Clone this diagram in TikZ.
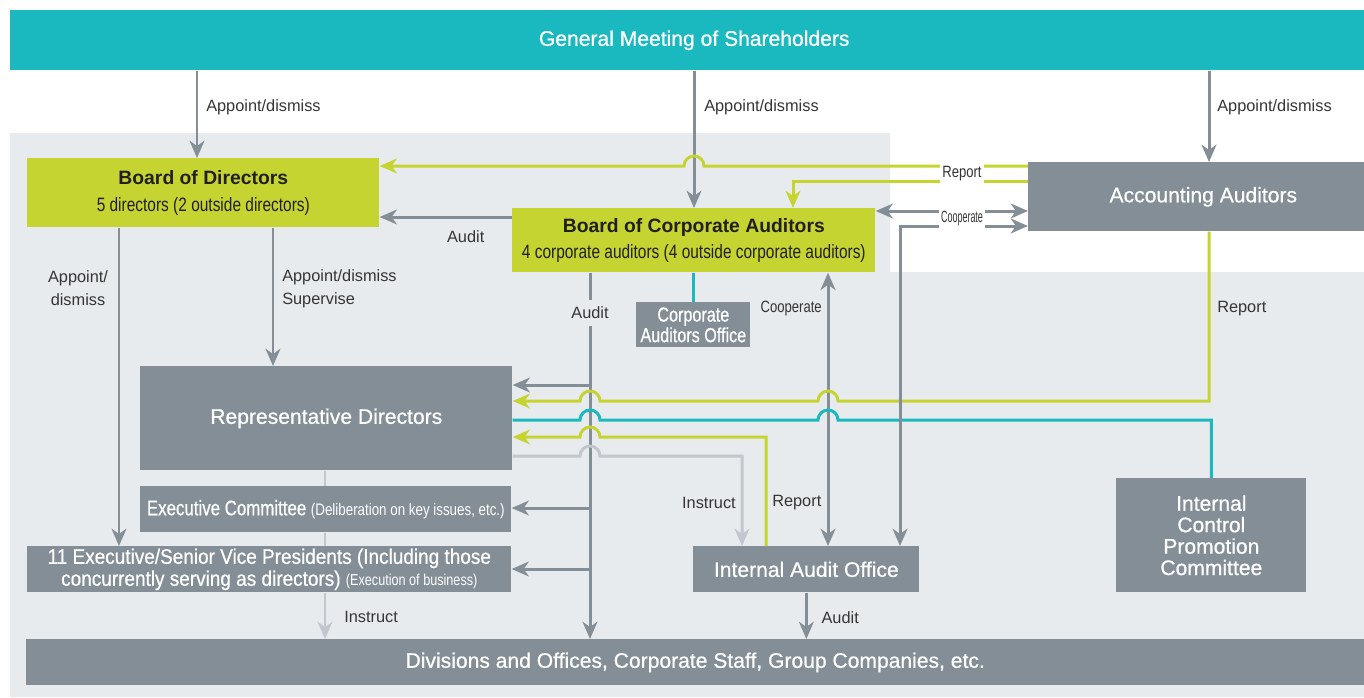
\documentclass[tikz,border=0pt]{standalone}
\usepackage{fontspec}
\setmainfont{Liberation Sans}
\newfontfamily\medfont{Liberation Sans}[FakeBold=0.7]
\newfontfamily\condfont{Liberation Sans}[FakeStretch=0.8]
\newfontfamily\medcondfont{Liberation Sans}[FakeStretch=0.8,FakeBold=0.7]
\newfontfamily\semifont{Liberation Sans}[FakeStretch=0.9,FakeBold=0.7]
\newfontfamily\narrowfont{Liberation Sans}[FakeStretch=0.55]
\usetikzlibrary{arrows.meta,positioning}
\definecolor{teal}{HTML}{1AB9BF}
\definecolor{lime}{HTML}{C6D431}
\definecolor{slate}{HTML}{848E96}
\definecolor{mist}{HTML}{E8EBEE}
\definecolor{pale}{HTML}{C1C7CC}
\definecolor{ink}{HTML}{231F20}
\definecolor{txtgrey}{HTML}{353535}
\tikzset{
  box/.style={fill=slate,text=white,align=center,inner sep=0pt,anchor=north west,font=\medfont\fontsize{12}{14}\selectfont},
  greenbox/.style={fill=lime,text=ink,align=center,inner sep=0pt,anchor=north west},
  ln/.style={draw=slate,line width=1.7pt},
  yl/.style={draw=lime,line width=1.7pt},
  tl/.style={draw=teal,line width=1.7pt},
  pl/.style={draw=pale,line width=1.7pt},
  tip/.style={-{Stealth[length=9.8pt,width=8.4pt,inset=3pt]}},
  both/.style={{Stealth[length=9.8pt,width=8.4pt,inset=3pt]}-{Stealth[length=9.8pt,width=8.4pt,inset=3pt]}},
  lab/.style={text=txtgrey,font=\fontsize{9.3}{13}\selectfont,inner sep=1pt,align=center}
}
\begin{document}
\begin{tikzpicture}[x=0.02cm,y=-0.02cm]
\useasboundingbox (0,0) rectangle (1364,697);
\fill[mist] (10,133)--(890,133)--(890,272)--(1364,272)--(1364,697)--(10,697)--cycle;
\node[box,fill=teal,minimum width=27.36cm,minimum height=1.2cm] (gms) at (10,10) {General Meeting of Shareholders};
\node[greenbox,minimum width=7.04cm,minimum height=1.38cm,font=\fontsize{11}{15.3}\selectfont] (bod) at (27,158) {{\bfseries Board of Directors}\\{\condfont 5 directors (2 outside directors)}};
\node[greenbox,minimum width=7.26cm,minimum height=1.28cm,font=\fontsize{11}{14.7}\selectfont] (bca) at (512,208) {{\bfseries Board of Corporate Auditors}\\{\condfont 4 corporate auditors (4 outside corporate auditors)}};
\node[box,minimum width=7cm,minimum height=1.38cm] (acc) at (1028,162) {Accounting Auditors};
\node[box,minimum width=2.28cm,minimum height=0.9cm,font=\medcondfont\fontsize{11.5}{10.5}\selectfont] (cao) at (636,302) {Corporate\\Auditors Office};
\node[box,minimum width=7.44cm,minimum height=2.08cm] (rep) at (140,366) {Representative Directors};
\node[box,minimum width=7.42cm,minimum height=0.92cm,font=\medcondfont\fontsize{12}{14}\selectfont] (exc) at (140,486) {Executive Committee {\condfont\fontsize{9.5}{12}\selectfont (Deliberation on key issues, etc.)}};
\node[box,minimum width=9.68cm,minimum height=0.92cm,font=\semifont\fontsize{12}{12.5}\selectfont] (evp) at (27,546) {11 Executive/Senior Vice Presidents (Including those\\concurrently serving as directors) {\condfont\fontsize{9}{12}\selectfont (Execution of business)}};
\node[box,minimum width=4.52cm,minimum height=0.92cm] (iao) at (693,546) {Internal Audit Office};
\node[box,minimum width=3.8cm,minimum height=2.28cm,font=\medfont\fontsize{12}{12.2}\selectfont] (icp) at (1116,478) {Internal\\Control\\Promotion\\Committee};
\node[box,minimum width=26.76cm,minimum height=0.92cm] (div) at (26,639) {Divisions and Offices, Corporate Staff, Group Companies, etc.};
\draw[ln,tip] (gms.south -| 197,0) -- node[lab,anchor=west,pos=.42,xshift=.12cm]{Appoint/dismiss} (bod.north -| 197,0);
\draw[ln,tip] (gms.south -| 694,0) -- node[lab,anchor=west,pos=.27,xshift=.14cm]{Appoint/dismiss} (bca.north -| 694,0);
\draw[ln,tip] (gms.south -| 1209,0) -- node[lab,anchor=west,pos=.4,xshift=.1cm]{Appoint/dismiss} (acc.north -| 1209,0);
\draw[yl,tip] (acc.west |- 0,166) -- (704,166) arc[start angle=0,end angle=180,radius=0.2cm] -- (bod.east |- 0,166);
\draw[yl,tip] (acc.west |- 0,181) -| (bca.north -| 793,0);
\draw[ln,both] (bca.east |- 0,211) -- (acc.west |- 0,211);
\draw[ln,tip] (bca.west |- 0,217) -- node[lab,pos=.35,yshift=-.4cm]{Audit} (bod.east |- 0,217);
\draw[ln,tip] (bod.south -| 119,0) -- node[lab,pos=.19,xshift=-.82cm]{Appoint/\\dismiss} (evp.north -| 119,0);
\draw[ln,tip] (bod.south -| 273,0) -- node[lab,anchor=west,pos=.44,xshift=.12cm,align=left]{Appoint/dismiss\\Supervise} (rep.north -| 273,0);
\draw[tl] (bca.south -| cao.north) -- (cao.north);
\draw[ln,tip] (bca.south -| 590,0) -- node[lab,pos=.109,fill=mist,inner ysep=4pt]{Audit} (div.north -| 590,0);
\draw[ln,tip] (590,385) -- (rep.east |- 0,385);
\draw[ln,tip] (590,508) -- (exc.east |- 0,508);
\draw[ln,tip] (590,569) -- (evp.east |- 0,569);
\draw[ln,both] (bca.south -| 828,0) -- node[lab,anchor=east,pos=.131,xshift=-.06cm,font=\condfont\fontsize{9.3}{13}\selectfont]{Cooperate} (iao.north -| 828,0);
\draw[yl,tip] (acc.south -| 1209,0) -- node[lab,anchor=west,pos=.453,xshift=.1cm]{Report} (1209,401) -- (838,401) arc[start angle=0,end angle=180,radius=0.2cm] -- (600,401) arc[start angle=0,end angle=180,radius=0.2cm] -- (rep.east |- 0,401);
\draw[tl] (icp.north) -- (icp.north |- 0,420) -- (838,420) arc[start angle=0,end angle=180,radius=0.2cm] -- (600,420) arc[start angle=0,end angle=180,radius=0.2cm] -- (rep.east |- 0,420);
\draw[yl,tip] (iao.north -| 766,0) -- node[lab,anchor=west,pos=.394,xshift=.06cm]{Report} (766,437) -- (600,437) arc[start angle=0,end angle=180,radius=0.2cm] -- (rep.east |- 0,437);
\draw[pl,tip] (rep.east |- 0,456) -- (580,456) arc[start angle=180,end angle=0,radius=0.2cm] -- (742,456) -- node[lab,anchor=east,pos=.52,xshift=-.06cm]{Instruct} (iao.north -| 742,0);
\draw[ln,both] (iao.north -| 900,0) |- (acc.west |- 0,226);
\draw[pl] (rep.south -| 325,0) -- (exc.north -| 325,0);
\draw[pl] (exc.south -| 325,0) -- (evp.north -| 325,0);
\draw[pl,tip] (evp.south -| 325,0) -- node[lab,anchor=west,pos=.53,xshift=.32cm]{Instruct} (div.north -| 325,0);
\draw[ln,tip] (iao.south) -- node[lab,anchor=west,pos=.53,xshift=.24cm]{Audit} (div.north -| iao.south);
\node[lab,fill=white,minimum width=0.88cm,minimum height=0.44cm,font=\condfont\fontsize{9.3}{13}\selectfont] (rptlab) at (962,174) {Report};
\node[lab,fill=white,minimum width=0.88cm,minimum height=0.42cm,font=\narrowfont\fontsize{9.3}{13}\selectfont] (cooplab) at (962,218.5) {Cooperate};
\end{tikzpicture}
\end{document}
